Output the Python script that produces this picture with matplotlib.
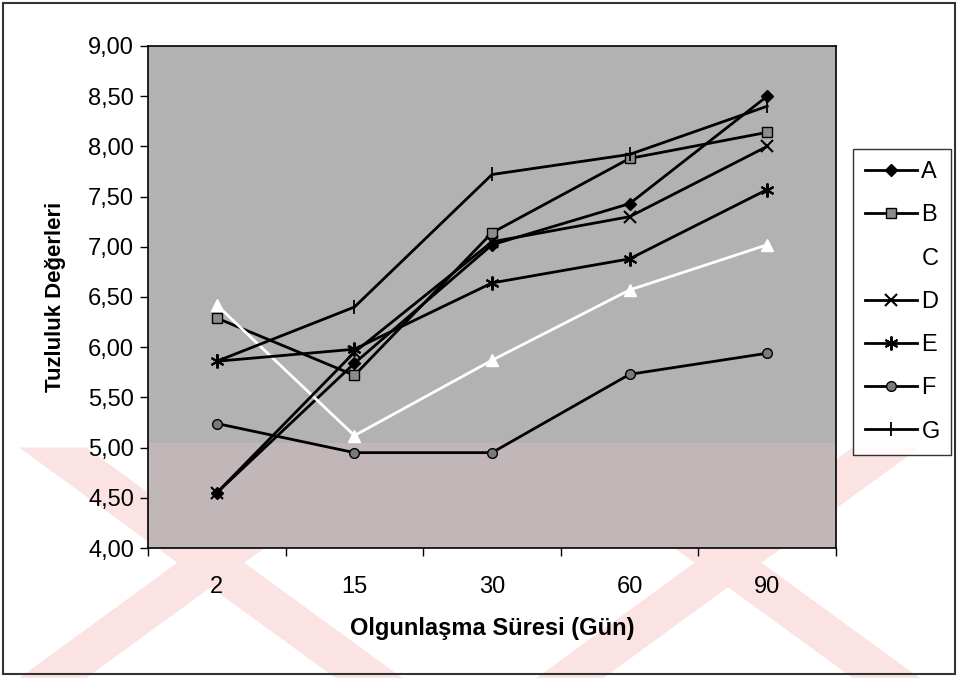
import numpy as np
import matplotlib
matplotlib.use("Agg")
import matplotlib.pyplot as plt
from matplotlib.patches import Rectangle, Polygon

# ---------------------------------------------------------------- data
days = ["2", "15", "30", "60", "90"]
series_names = ["A", "B", "C", "D", "E", "F", "G"]

A = [4.55, 5.84, 7.02, 7.43, 8.50]
B = [6.29, 5.72, 7.14, 7.88, 8.14]
C = [6.42, 5.12, 5.87, 6.57, 7.02]
D = [4.55, 5.95, 7.05, 7.30, 8.00]
E = [5.86, 5.98, 6.64, 6.88, 7.57]
F = [5.24, 4.95, 4.95, 5.73, 5.94]
G = [5.86, 6.40, 7.72, 7.92, 8.40]

# marker / colour per series
styles = {
    "A": dict(color="black", marker="D", ms=6, mfc="black", mec="black"),
    "B": dict(color="black", marker="s", ms=7, mfc="#8c8c8c", mec="black"),
    "C": dict(color="white", marker="^", ms=8, mfc="white", mec="white"),
    "D": dict(color="black", marker="x", ms=8, mew=1.5),
    "E": dict(color="black", marker=(6, 2, 0), ms=10, mew=1.5),
    "F": dict(color="black", marker="o", ms=7, mfc="#7a7a7a", mec="black"),
    "G": dict(color="black", marker="|", ms=10, mew=1.3),
}

plt.rcParams["font.family"] = ["Liberation Sans", "DejaVu Sans"]


def main():
    fig = plt.figure(figsize=(9.58, 6.78), dpi=100)
    ax = fig.add_axes([0.1545, 0.1917, 0.7182, 0.7405])

    # faint watermark behind everything
    pink = "#fbe3e3"
    for x0 in (0.02, 0.56):
        fig.patches.append(Polygon([[x0, 0.0], [x0 + 0.07, 0.0], [x0 + 0.40, 0.34],
                                    [x0 + 0.33, 0.34]], closed=True,
                                   transform=fig.transFigure, facecolor=pink,
                                   edgecolor="none", zorder=-4))
        fig.patches.append(Polygon([[x0 + 0.33, 0.0], [x0 + 0.40, 0.0], [x0 + 0.07, 0.34],
                                    [x0, 0.34]], closed=True,
                                   transform=fig.transFigure, facecolor=pink,
                                   edgecolor="none", zorder=-4))

    ax.set_facecolor("#b2b2b2")
    ax.add_patch(Rectangle((0, 0), 1, 0.21, transform=ax.transAxes,
                           facecolor="#e8c4c6", edgecolor="none", alpha=0.3, zorder=0))

    x = np.arange(len(days))
    data = dict(A=A, B=B, C=C, D=D, E=E, F=F, G=G)
    handles = []
    for name in series_names:
        st = styles[name]
        (h,) = ax.plot(x, data[name], lw=2, label=name, zorder=3, **st)
        handles.append(h)

    ax.set_xlim(-0.5, len(days) - 0.5)
    ax.set_ylim(4, 9)
    ax.set_yticks(np.arange(4, 9.01, 0.5))
    ax.set_yticklabels([f"{v:.2f}".replace(".", ",") for v in np.arange(4, 9.01, 0.5)])
    ax.set_xticks(x)
    ax.set_xticklabels(days)
    ax.set_xticks(np.arange(-0.5, len(days)), minor=True)
    ax.tick_params(axis="x", which="major", length=0, pad=20, labelsize=17)
    ax.tick_params(axis="x", which="minor", length=6, width=1, direction="out")
    ax.tick_params(axis="y", length=6, width=1, direction="out", labelsize=17, pad=4)

    for sp in ax.spines.values():
        sp.set_color("black")
        sp.set_linewidth(1.2)

    ax.set_xlabel("Olgunlaşma Süresi (Gün)", fontsize=17, fontweight="bold", labelpad=14)
    ax.set_ylabel("Tuzluluk Değerleri", fontsize=16, fontweight="bold", labelpad=16)

    leg = fig.legend(handles=handles, labels=series_names, loc="upper left",
                     bbox_to_anchor=(0.878, 0.797), frameon=True, fontsize=17,
                     handlelength=2.2, handletextpad=0.2, labelspacing=0.9,
                     borderpad=0.5, fancybox=False)
    leg.get_frame().set_edgecolor("black")
    leg.get_frame().set_linewidth(1.0)

    # outer chart frame
    fig.patches.append(Rectangle((0.003, 0.006), 0.994, 0.99, transform=fig.transFigure,
                                 fill=False, edgecolor="#333333", linewidth=1.5))

    fig.savefig("out.png", dpi=100)


if __name__ == "__main__":
    main()
